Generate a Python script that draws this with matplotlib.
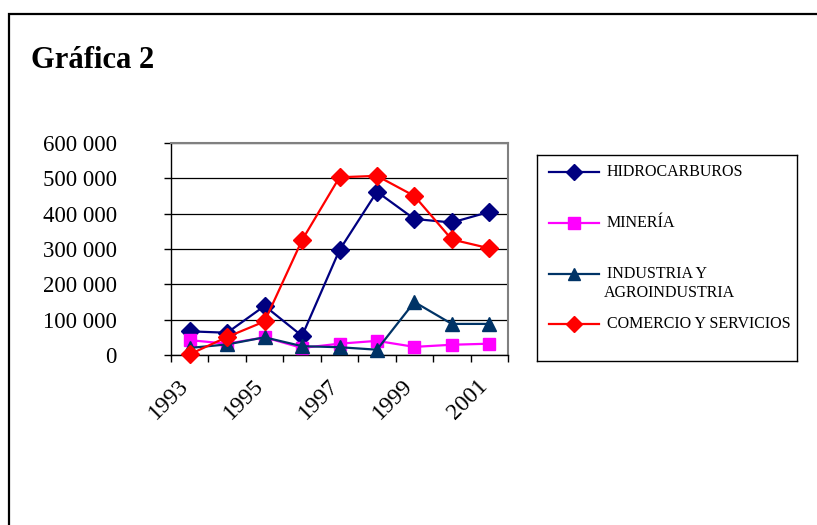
import matplotlib
matplotlib.use('Agg')
import matplotlib.pyplot as plt
from matplotlib.patches import Rectangle
from matplotlib.ticker import FuncFormatter
from matplotlib.transforms import ScaledTranslation
import numpy as np

years = ['1993', '1994', '1995', '1996', '1997', '1998', '1999', '2000', '2001']

hidrocarburos = [67000, 63000, 139000, 54000, 297000, 462000, 385000, 375000, 405000]
mineria = [42000, 32000, 50000, 20000, 32000, 40000, 23000, 29000, 32000]
industria = [20000, 30000, 50000, 25000, 22000, 15000, 150000, 88000, 88000]
comercio = [2000, 51000, 95000, 325000, 503000, 507000, 450000, 327000, 302000]

series_names = ['HIDROCARBUROS', 'MINERÍA', 'INDUSTRIA Y\nAGROINDUSTRIA', 'COMERCIO Y SERVICIOS']

serif = ['Liberation Serif', 'DejaVu Serif']
plt.rcParams['font.family'] = serif

W, H = 817, 525
fig = plt.figure(figsize=(W / 100, H / 100), dpi=100)


def fx(px):
    return px / W


def fy(py):
    return 1 - py / H


# outer frame (continues beyond the image)
fig.add_artist(Rectangle((fx(9), fy(600)), fx(900), fy(14) - fy(600),
                         transform=fig.transFigure, fill=False,
                         edgecolor='black', linewidth=1.6))

fig.text(fx(31), fy(68), 'Gráfica 2', fontsize=22, fontweight='bold',
         va='baseline', ha='left')

ax = fig.add_axes([fx(171), fy(355), fx(508) - fx(171), fy(143) - fy(355)])

x = np.arange(len(years))
styles = [
    (hidrocarburos, '#000080', 'D', 9),
    (mineria, '#FF00FF', 's', 8.5),
    (industria, '#003366', '^', 9.5),
    (comercio, '#FF0000', 'D', 9),
]
for vals, col, mk, ms in styles:
    ax.plot(x, vals, color=col, marker=mk, markersize=ms, linewidth=1.6,
            clip_on=False, zorder=3)

ax.set_xlim(-0.5, len(years) - 0.5)
ax.set_ylim(0, 600000)
ax.set_yticks(np.arange(0, 600001, 100000))
ax.yaxis.set_major_formatter(FuncFormatter(lambda v, p: f'{int(v):,}'.replace(',', ' ')))
ax.grid(axis='y', color='black', linewidth=0.9)
ax.set_axisbelow(True)

# category labels on odd years, tick marks at category boundaries
ax.set_xticks(x[::2])
ax.set_xticklabels(years[::2], rotation=45, ha='right', va='top',
                   rotation_mode='anchor')
ax.set_xticks(np.arange(-0.5, len(years)), minor=True)
ax.tick_params(axis='x', which='major', length=0, labelsize=17, pad=15)
ax.tick_params(axis='x', which='minor', length=5, width=1, direction='out')
ax.tick_params(axis='y', length=5, width=1, direction='out', labelsize=16.5, pad=34)
shift = ScaledTranslation(-12 / 100, 0, fig.dpi_scale_trans)
for lab in ax.get_xticklabels():
    lab.set_transform(lab.get_transform() + shift)

for s in ['top', 'right']:
    ax.spines[s].set_color('#808080')
    ax.spines[s].set_linewidth(1.5)
for s in ['left', 'bottom']:
    ax.spines[s].set_color('black')
    ax.spines[s].set_linewidth(1.0)

# legend box
lax = fig.add_axes([fx(537), fy(361), fx(797) - fx(537), fy(155) - fy(361)])
lax.set_xlim(537, 797)
lax.set_ylim(361, 155)
lax.set_xticks([])
lax.set_yticks([])
for s in lax.spines.values():
    s.set_linewidth(1.0)
    s.set_color('black')

entry_y = [172, 223, 274, 324]
for (vals, col, mk, ms), name, yy in zip(styles, series_names, entry_y):
    lax.plot([549, 599], [yy, yy], color=col, linewidth=1.6)
    lax.plot([574], [yy], color=col, marker=mk, markersize=ms - 0.5)
    lines = name.split('\n')
    lax.text(607, yy, lines[0], fontsize=11.5, va='center', ha='left')
    if len(lines) > 1:
        lax.text(604, yy + 19, lines[1], fontsize=11.5, va='center', ha='left')

fig.savefig('out.png', dpi=100)
